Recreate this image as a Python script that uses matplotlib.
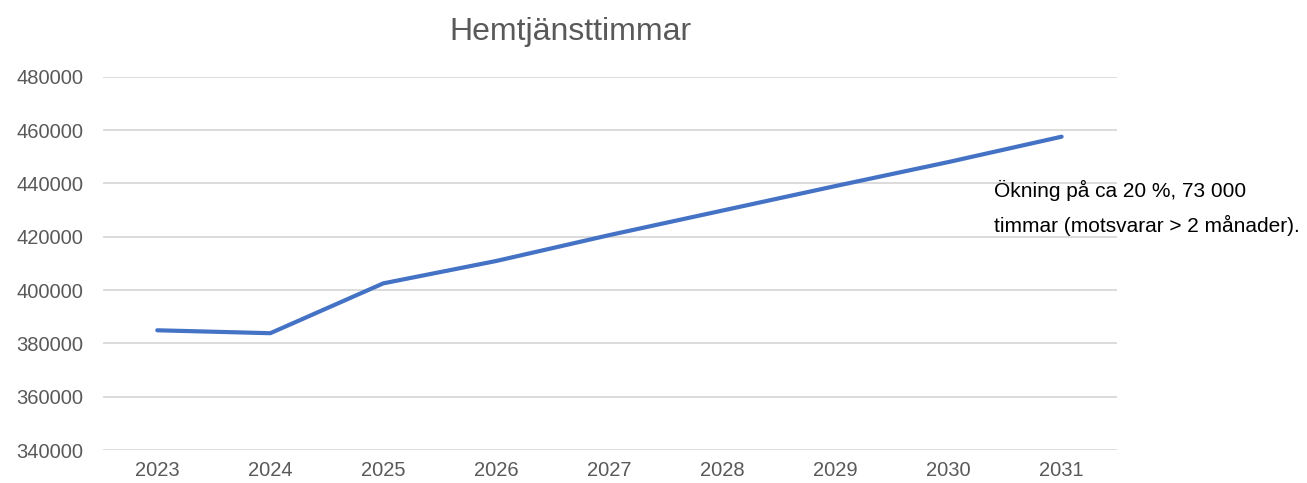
import numpy as np
from matplotlib import pyplot as plt

plt.rcParams['font.family'] = ['Liberation Sans', 'DejaVu Sans']

# data
years = [2023, 2024, 2025, 2026, 2027, 2028, 2029, 2030, 2031]
timmar = [384900, 383800, 402500, 410900, 420600, 429800, 439000, 448000, 457500]
yticks = [340000, 360000, 380000, 400000, 420000, 440000, 460000, 480000]
title = 'Hemtjänsttimmar'
note = ['Ökning på ca 20 %, 73 000', 'timmar (motsvarar > 2 månader).']

grey = '#595959'

fig = plt.figure(figsize=(13.07, 4.83), dpi=100)
ax = fig.add_axes([103/1307, 1-450/483, (1117-103)/1307, (450-76.7)/483])

ax.plot(years, timmar, color='#4472c4', lw=3, solid_capstyle='round', zorder=3)

ax.set_ylim(340000, 480000)
ax.set_xlim(2022.52, 2031.49)
ax.set_yticks(yticks)
ax.set_xticks(years)
ax.yaxis.grid(True, color='#d9d9d9', lw=1.3)
ax.set_axisbelow(True)
for s in ax.spines.values():
    s.set_visible(False)
ax.tick_params(length=0, labelsize=14.5, labelcolor=grey)
ax.tick_params(axis='y', pad=14)
ax.tick_params(axis='x', pad=8)

fig.text(570/1307, 1-40/483, title, ha='center', va='baseline', fontsize=23, color=grey)
fig.text(994/1307, 1-196.7/483, note[0], ha='left', va='baseline', fontsize=15, color='black')
fig.text(994/1307, 1-231.7/483, note[1], ha='left', va='baseline', fontsize=15, color='black')

fig.savefig('out.png', dpi=100)
